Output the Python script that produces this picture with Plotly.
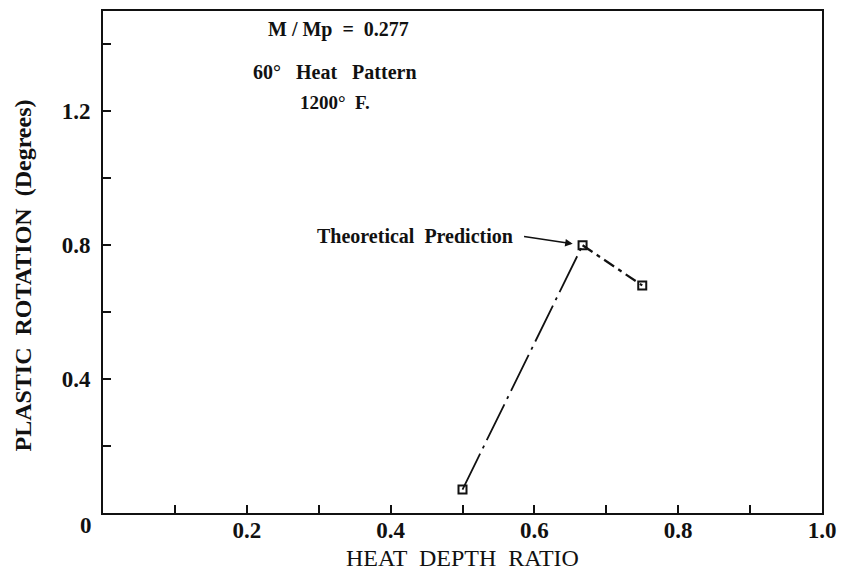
import plotly.graph_objects as go

# Measured plastic rotation against heat depth ratio
heat_depth_ratio = [0.50, 0.667, 0.75]
plastic_rotation = [0.07, 0.80, 0.68]

x_ticks = [0.1, 0.2, 0.3, 0.4, 0.5, 0.6, 0.7, 0.8, 0.9, 1.0]
x_tick_text = ["", "0.2", "", "0.4", "", "0.6", "", "0.8", "", "1.0"]
y_ticks = [0.2, 0.4, 0.6, 0.8, 1.0, 1.2, 1.4]
y_tick_text = ["", "0.4", "", "0.8", "", "1.2", ""]

SERIF = "Liberation Serif, DejaVu Serif, serif"
INK = "#111111"

W, H = 845, 577
L, R, T, B = 103, 18, 9, 64
PW, PH = W - L - R, H - T - B

fig = go.Figure()

# rising leg: long dash-dot
fig.add_trace(go.Scatter(
    x=heat_depth_ratio[:2], y=plastic_rotation[:2], mode="lines",
    line=dict(color=INK, width=1.8, dash="40px,6px,3px,6px"),
    hoverinfo="skip", showlegend=False))
# falling leg: shorter dash-dot
fig.add_trace(go.Scatter(
    x=heat_depth_ratio[1:], y=plastic_rotation[1:], mode="lines",
    line=dict(color=INK, width=2.2, dash="12px,5px,4px,5px"),
    hoverinfo="skip", showlegend=False))
fig.add_trace(go.Scatter(
    x=heat_depth_ratio, y=plastic_rotation, mode="markers",
    marker=dict(symbol="square-open", size=8, color=INK, line=dict(width=2, color=INK)),
    showlegend=False))

axis_common = dict(
    showgrid=False, zeroline=False, showline=True, linecolor=INK, linewidth=2,
    mirror=True, ticks="inside", ticklen=8, tickwidth=1.5, tickcolor=INK,
    tickmode="array",
    tickfont=dict(family=SERIF, size=23, color=INK, weight="bold"),
)

fig.update_xaxes(range=[0, 1.0], tickvals=x_ticks, ticktext=x_tick_text,
                 ticklabelstandoff=-5, **axis_common)
fig.update_yaxes(range=[0, 1.5], tickvals=y_ticks, ticktext=y_tick_text,
                 ticklabelstandoff=6, **axis_common)

# axis titles, placed in pixel terms relative to the plot area
fig.add_annotation(text="HEAT  DEPTH  RATIO", showarrow=False,
                   xref="paper", yref="paper", xanchor="center", yanchor="middle",
                   x=0.5, y=-(558 - (H - B)) / PH,
                   font=dict(family=SERIF, size=24, color=INK))
fig.add_annotation(text="<b>PLASTIC  ROTATION  (Degrees)</b>", showarrow=False,
                   textangle=-90, xref="paper", yref="paper",
                   xanchor="center", yanchor="middle",
                   x=-(L - 22) / PW, y=((H - B) - 275) / PH,
                   font=dict(family=SERIF, size=24, color=INK))

# origin label shared by both axes
fig.add_annotation(x=0, y=0, xref="x", yref="y", text="<b>0</b>", showarrow=False,
                   xshift=-17, yshift=-12, font=dict(family=SERIF, size=23, color=INK))

notes = [("<b>M / Mp  =  0.277</b>", 0.328, 1.445, 20),
         ("<b>60°   Heat   Pattern</b>", 0.323, 1.318, 20),
         ("<b>1200°  F.</b>", 0.323, 1.227, 19)]
for txt, xv, yv, fs in notes:
    fig.add_annotation(x=xv, y=yv, xref="x", yref="y", text=txt, showarrow=False,
                       font=dict(family=SERIF, size=fs, color=INK))

fig.add_annotation(x=0.434, y=0.827, xref="x", yref="y",
                   text="<b>Theoretical  Prediction</b>", showarrow=False,
                   font=dict(family=SERIF, size=20, color=INK))
fig.add_annotation(x=heat_depth_ratio[1], y=plastic_rotation[1], xref="x", yref="y",
                   text="", showarrow=True, ax=-60, ay=-9, arrowhead=2, arrowsize=1,
                   arrowwidth=1.5, arrowcolor=INK, standoff=10)

fig.update_layout(
    width=W, height=H,
    margin=dict(l=L, r=R, t=T, b=B),
    paper_bgcolor="white", plot_bgcolor="white",
)

fig.write_html("out.html")
